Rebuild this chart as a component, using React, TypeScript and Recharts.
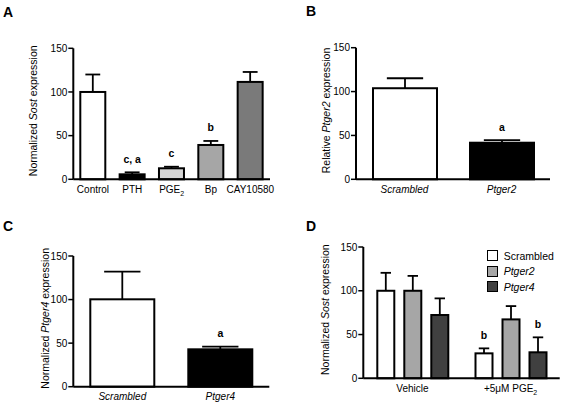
import React from 'react';
import { BarChart, Bar, XAxis, YAxis, Legend, Cell } from 'recharts';

const FONT = '"Liberation Sans", Arial, Helvetica, sans-serif';

// ---------- Panel A ----------
const aCategories = ['Control', 'PTH', 'PGE2', 'Bp', 'CAY10580'];
const aMeans = [100, 5.7, 12.6, 39.3, 111.5];
const aErrors = [20, 2.3, 1.8, 4.6, 11.4];
const aSig = ['', 'c, a', 'c', 'b', ''];
const aTickLabels = [
  [{ t: 'Control' }],
  [{ t: 'PTH' }],
  [{ t: 'PGE' }, { t: '2', sub: true }],
  [{ t: 'Bp' }],
  [{ t: 'CAY10580' }],
];

// ---------- Panel B ----------
const bCategories = ['Scrambled', 'Ptger2'];
const bMeans = [103.8, 41.7];
const bErrors = [11.4, 3];
const bSig = ['', 'a'];
const bTickLabels = [[{ t: 'Scrambled', it: true }], [{ t: 'Ptger2', it: true }]];

// ---------- Panel C ----------
const cCategories = ['Scrambled', 'Ptger4'];
const cMeans = [100.3, 42.9];
const cErrors = [31.7, 3];
const cSig = ['', 'a'];
const cTickLabels = [[{ t: 'Scrambled', it: true }], [{ t: 'Ptger4', it: true }]];

// ---------- Panel D ----------
const dGroups = ['Vehicle', 'PGE2'];
const dScrambled = [100, 28.5];
const dScrambledErr = [20.5, 5.7];
const dScrambledSig = ['', 'b'];
const dPtger2 = [100, 67.3];
const dPtger2Err = [17, 15.2];
const dPtger2Sig = ['', ''];
const dPtger4 = [72.3, 29.7];
const dPtger4Err = [19, 17.1];
const dPtger4Sig = ['', 'b'];
const dTickLabels = [[{ t: 'Vehicle' }], [{ t: '+5\u03bcM PGE' }, { t: '2', sub: true }]];
const dSeriesNames = ['Scrambled', 'Ptger2', 'Ptger4'];

const yTicks = [0, 50, 100, 150];

// colours
const aFills = ['#ffffff', '#000000', '#d6d6d6', '#a6a6a6', '#7a7a7a'];
const dFills = ['#ffffff', '#a6a6a6', '#404040'];

// tables built from arrays
const aData = aCategories.map((c, i) => ({ name: c, value: aMeans[i], err: aErrors[i], sig: aSig[i] }));
const bData = bCategories.map((c, i) => ({ name: c, value: bMeans[i], err: bErrors[i], sig: bSig[i] }));
const cData = cCategories.map((c, i) => ({ name: c, value: cMeans[i], err: cErrors[i], sig: cSig[i] }));
const dData = dGroups.map((g, i) => ({
  name: g,
  s: dScrambled[i], sErr: dScrambledErr[i], sSig: dScrambledSig[i],
  p2: dPtger2[i], p2Err: dPtger2Err[i], p2Sig: dPtger2Sig[i],
  p4: dPtger4[i], p4Err: dPtger4Err[i], p4Sig: dPtger4Sig[i],
}));

type Seg = { t: string; it?: boolean; sub?: boolean };

function renderSegs(segs: Seg[], subSize: number) {
  return segs.map((s, i) =>
    s.sub ? (
      <tspan key={i} dy={3} fontSize={subSize}>
        {s.t}
      </tspan>
    ) : (
      <tspan key={i} fontStyle={s.it ? 'italic' : 'normal'}>
        {s.t}
      </tspan>
    )
  );
}

function makeXTick(categories: string[], labels: Seg[][], margin: number) {
  return (props: any) => {
    const { x, y, payload } = props;
    const idx = categories.indexOf(payload.value);
    const segs = labels[idx] || [{ t: String(payload.value) }];
    return (
      <text x={x} y={y + margin} dy="0.71em" textAnchor="middle" fontSize={10} fill="#000" fontFamily={FONT}>
        {renderSegs(segs, 7)}
      </text>
    );
  };
}

function makeYLabel(segs: Seg[], dist: number) {
  return (props: any) => {
    const vb = props.viewBox || {};
    const cx = vb.x + vb.width - dist;
    const cy = vb.y + vb.height / 2 - 3;
    return (
      <text
        x={cx}
        y={cy}
        transform={`rotate(-90 ${cx} ${cy})`}
        textAnchor="middle"
        dominantBaseline="central"
        fontSize={10.5}
        fill="#000"
        fontFamily={FONT}
      >
        {renderSegs(segs, 7)}
      </text>
    );
  };
}

function makeBarShape(valueKey: string, errKey: string, sigKey: string) {
  return (props: any) => {
    const { x, y, width, height, fill, payload } = props;
    const v = payload[valueKey];
    const e = payload[errKey];
    const sig = payload[sigKey];
    const k = v ? height / v : 0;
    const top = y - e * k;
    const cx = x + width / 2;
    const cap = (width + 2) * 0.55;
    return (
      <g>
        <line x1={cx} x2={cx} y1={y} y2={top} stroke="#000" strokeWidth={1.8} />
        <line x1={cx - cap / 2} x2={cx + cap / 2} y1={top} y2={top} stroke="#000" strokeWidth={1.8} />
        <rect x={x} y={y} width={width} height={height} fill={fill} stroke="#000" strokeWidth={2} />
        {sig ? (
          <text x={cx} y={top - 9.5} textAnchor="middle" fontSize={10.5} fontWeight="bold" fill="#000" fontFamily={FONT}>
            {sig}
          </text>
        ) : null}
      </g>
    );
  };
}

const axisLineStyle = { stroke: '#000', strokeWidth: 2 };
const tickLineStyle = { stroke: '#000', strokeWidth: 1.5 };
const yTickStyle = { fontSize: 10, fill: '#000', fontFamily: FONT };

function DLegend(props: any) {
  const payload = [...(props.payload || [])].sort(
    (a: any, b: any) => dSeriesNames.indexOf(a.value) - dSeriesNames.indexOf(b.value)
  );
  return (
    <div style={{ fontFamily: FONT, fontSize: 10.5, color: '#000' }}>
      {payload.map((p: any, i: number) => (
        <div key={i} style={{ display: 'flex', alignItems: 'center', height: 15.5 }}>
          <div
            style={{
              width: 9,
              height: 9,
              border: '1.5px solid #000',
              background: p.color,
              marginRight: 6,
              flexShrink: 0,
            }}
          />
          <span style={{ fontStyle: p.value === 'Scrambled' ? 'normal' : 'italic', lineHeight: '12px' }}>{p.value}</span>
        </div>
      ))}
    </div>
  );
}

export default function App() {
  return (
    <div
      style={{
        position: 'absolute',
        left: 0,
        top: 0,
        width: 563,
        height: 404,
        background: '#fff',
        fontFamily: FONT,
        overflow: 'hidden',
      }}
    >
      <svg width={563} height={404} style={{ position: 'absolute', left: 0, top: 0 }}>
        <text x={3} y={16.5} fontSize={14} fontWeight="bold" fontFamily={FONT} fill="#000">A</text>
        <text x={306} y={16} fontSize={14} fontWeight="bold" fontFamily={FONT} fill="#000">B</text>
        <text x={3} y={230.5} fontSize={14} fontWeight="bold" fontFamily={FONT} fill="#000">C</text>
        <text x={306} y={230.5} fontSize={14} fontWeight="bold" fontFamily={FONT} fill="#000">D</text>
      </svg>

      {/* Panel A */}
      <div style={{ position: 'absolute', left: 0, top: 0 }}>
        <BarChart width={290} height={200} data={aData} margin={{ top: 48.3, right: 20, bottom: 4.7, left: 33.3 }}>
          <XAxis
            dataKey="name"
            height={16}
            axisLine={axisLineStyle}
            tickLine={false}
            tickSize={0}
            interval={0}
            tick={makeXTick(aCategories, aTickLabels, 4.6)}
          />
          <YAxis
            width={40}
            domain={[0, 150]}
            ticks={yTicks}
            axisLine={axisLineStyle}
            tickLine={tickLineStyle}
            tickSize={5}
            tickMargin={1}
            tick={yTickStyle}
            label={{ content: makeYLabel([{ t: 'Normalized ' }, { t: 'Sost', it: true }, { t: ' expression' }], 40) }}
          />
          <Bar dataKey="value" barSize={25} isAnimationActive={false} shape={makeBarShape('value', 'err', 'sig')}>
            {aData.map((d, i) => (
              <Cell key={i} fill={aFills[i]} />
            ))}
          </Bar>
        </BarChart>
      </div>

      {/* Panel B */}
      <div style={{ position: 'absolute', left: 280, top: 0 }}>
        <BarChart width={283} height={200} data={bData} margin={{ top: 47.7, right: 13, bottom: 4.7, left: 36 }}>
          <XAxis
            dataKey="name"
            height={16}
            axisLine={axisLineStyle}
            tickLine={false}
            tickSize={0}
            interval={0}
            tick={makeXTick(bCategories, bTickLabels, 4.6)}
          />
          <YAxis
            width={40}
            domain={[0, 150]}
            ticks={yTicks}
            axisLine={axisLineStyle}
            tickLine={tickLineStyle}
            tickSize={5}
            tickMargin={1}
            tick={yTickStyle}
            label={{ content: makeYLabel([{ t: 'Relative ' }, { t: 'Ptger2', it: true }, { t: ' expression' }], 30) }}
          />
          <Bar dataKey="value" barSize={64} isAnimationActive={false} shape={makeBarShape('value', 'err', 'sig')}>
            {bData.map((d, i) => (
              <Cell key={i} fill={i === 0 ? '#ffffff' : '#000000'} />
            ))}
          </Bar>
        </BarChart>
      </div>

      {/* Panel C */}
      <div style={{ position: 'absolute', left: 0, top: 200 }}>
        <BarChart width={290} height={204} data={cData} margin={{ top: 56, right: 20.7, bottom: 1.3, left: 33.3 }}>
          <XAxis
            dataKey="name"
            height={16}
            axisLine={axisLineStyle}
            tickLine={false}
            tickSize={0}
            interval={0}
            tick={makeXTick(cCategories, cTickLabels, 4.6)}
          />
          <YAxis
            width={40}
            domain={[0, 150]}
            ticks={yTicks}
            axisLine={axisLineStyle}
            tickLine={tickLineStyle}
            tickSize={5}
            tickMargin={1}
            tick={yTickStyle}
            label={{ content: makeYLabel([{ t: 'Normalized ' }, { t: 'Ptger4', it: true }, { t: ' expression' }], 28) }}
          />
          <Bar dataKey="value" barSize={64} isAnimationActive={false} shape={makeBarShape('value', 'err', 'sig')}>
            {cData.map((d, i) => (
              <Cell key={i} fill={i === 0 ? '#ffffff' : '#000000'} />
            ))}
          </Bar>
        </BarChart>
      </div>

      {/* Panel D */}
      <div style={{ position: 'absolute', left: 280, top: 200 }}>
        <BarChart
          width={283}
          height={204}
          data={dData}
          barSize={17}
          barGap={10}
          margin={{ top: 47, right: 3.3, bottom: 9.7, left: 43.3 }}
        >
          <XAxis
            dataKey="name"
            height={16}
            axisLine={axisLineStyle}
            tickLine={false}
            tickSize={0}
            interval={0}
            tick={makeXTick(dGroups, dTickLabels, 5)}
          />
          <YAxis
            width={40}
            domain={[0, 150]}
            ticks={yTicks}
            axisLine={axisLineStyle}
            tickLine={tickLineStyle}
            tickSize={5}
            tickMargin={1}
            tick={yTickStyle}
            label={{ content: makeYLabel([{ t: 'Normalized ' }, { t: 'Sost', it: true }, { t: ' expression' }], 38) }}
          />
          <Legend
            layout="vertical"
            align="center"
            verticalAlign="middle"
            wrapperStyle={{ left: 206.7, top: 48, width: 80, right: 'auto', bottom: 'auto' }}
            content={DLegend}
          />
          <Bar dataKey="s" name={dSeriesNames[0]} fill={dFills[0]} isAnimationActive={false} shape={makeBarShape('s', 'sErr', 'sSig')} />
          <Bar dataKey="p2" name={dSeriesNames[1]} fill={dFills[1]} isAnimationActive={false} shape={makeBarShape('p2', 'p2Err', 'p2Sig')} />
          <Bar dataKey="p4" name={dSeriesNames[2]} fill={dFills[2]} isAnimationActive={false} shape={makeBarShape('p4', 'p4Err', 'p4Sig')} />
        </BarChart>
      </div>
    </div>
  );
}
